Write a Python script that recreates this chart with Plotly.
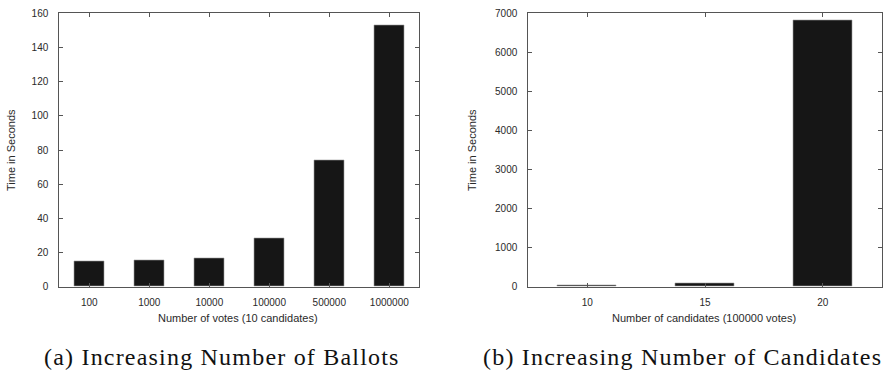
import plotly.graph_objects as go

# Data
votes_labels = ["100", "1000", "10000", "100000", "500000", "1000000"]
votes_times = [15.0, 15.6, 16.6, 28.3, 74.0, 153.2]

cand_labels = ["10", "15", "20"]
cand_times = [35, 95, 6821]

W, H = 890, 373
BAR = "#161616"
TXT = "#2a2a2a"
AX = "#555555"
FONT = "Liberation Sans, Arial, sans-serif"

fig = go.Figure()
fig.add_trace(go.Bar(x=votes_labels, y=votes_times, width=0.5,
                     marker=dict(color=BAR, line=dict(color="#9a9a9a", width=0.6)),
                     xaxis="x", yaxis="y", showlegend=False))
fig.add_trace(go.Bar(x=cand_labels, y=cand_times, width=0.5,
                     marker=dict(color=BAR, line=dict(color="#9a9a9a", width=0.6)),
                     xaxis="x2", yaxis="y2", showlegend=False))

ydom = [(H - 286.7) / H, (H - 13.3) / H]
axcommon = dict(showline=True, linecolor=AX, linewidth=1, mirror="ticks",
                ticks="inside", ticklen=4, tickcolor=AX, showgrid=False,
                zeroline=False, tickfont=dict(family=FONT, size=10, color=TXT))

fig.update_layout(
    width=W, height=H, margin=dict(l=0, r=0, t=0, b=0, autoexpand=False),
    paper_bgcolor="white", plot_bgcolor="white",
    xaxis=dict(domain=[59.3 / W, 419.3 / W], anchor="y", type="category",
               range=[-0.5, 5.5], ticklabelstandoff=6, **axcommon),
    yaxis=dict(domain=ydom, anchor="x", range=[0, 160], dtick=20,
               ticklabelstandoff=8, **axcommon),
    xaxis2=dict(domain=[528.3 / W, 881.7 / W], anchor="y2", type="category",
                range=[-0.5, 2.5], ticklabelstandoff=6, **axcommon),
    yaxis2=dict(domain=ydom, anchor="x2", range=[0, 7000], dtick=1000,
                ticklabelstandoff=8, **axcommon),
    bargap=0,
)

def ann(text, x, y, size, family, angle=0, color=TXT):
    fig.add_annotation(text=text, x=x / W, y=1 - y / H, xref="paper", yref="paper",
                       showarrow=False, textangle=angle,
                       font=dict(family=family, size=size, color=color),
                       xanchor="center", yanchor="middle")

ann("Number of votes (10 candidates)", 238, 318, 11, FONT)
ann("Number of candidates (100000 votes)", 704, 318, 11, FONT)
ann("Time in Seconds", 11, 150, 11, FONT, angle=-90)
ann("Time in Seconds", 472, 150, 11, FONT, angle=-90)

SERIF = "Liberation Serif, Times New Roman, serif"
ann('<span style="letter-spacing:1.2px">(a) Increasing Number of Ballots</span>',
    221.5, 357, 24, SERIF, color="#111111")
ann('<span style="letter-spacing:1.2px">(b) Increasing Number of Candidates</span>',
    682.5, 357, 24, SERIF, color="#111111")

fig.write_html("out.html", config={"displayModeBar": False},
               post_script="document.body.style.margin='0';document.body.style.overflow='hidden';")
